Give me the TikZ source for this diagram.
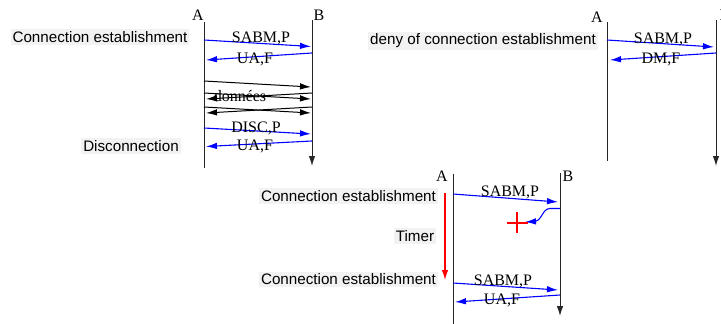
\documentclass[tikz,border=0pt]{standalone}
\usepackage{fontspec}
\setmainfont{Liberation Serif}
\setsansfont{Liberation Sans}
\usetikzlibrary{arrows.meta}
\begin{document}
\begin{tikzpicture}[x=1pt,y=-1pt,
  life/.style={line width=1pt, black!85},
  lifearr/.style={life, -{Latex[length=10pt,width=6.5pt]}},
  msg/.style={blue, line width=1.1pt, -{Latex[length=11pt,width=6.5pt]}},
  data/.style={black, line width=1pt, -{Latex[length=11pt,width=6.5pt]}},
  mlabel/.style={font=\fontsize{16}{16}\selectfont, inner sep=0pt},
  ent/.style={font=\fontsize{16}{16}\selectfont, inner sep=0pt},
  side/.style={font=\sffamily\fontsize{15.2}{16}\selectfont, fill=black!5, inner sep=2pt},
  timer/.style={red, line width=1.2pt, -{Latex[length=10pt,width=6.5pt]}},
  cross/.style={red, line width=2pt}
]
\useasboundingbox (0,0) rectangle (721,324);

% ---------- Diagram 1 ----------
\node[ent] (A1) at (198,15) {A};
\node[ent] (B1) at (319,15) {B};
\coordinate (A1t) at (204,22); \coordinate (A1b) at (204,168);
\coordinate (B1t) at (312,20); \coordinate (B1b) at (312,166);
\draw[life] (A1t) -- (A1b);
\draw[lifearr] (B1t) -- (B1b);

\coordinate (a11) at (204,40);  \coordinate (b11) at (311,46.5);
\coordinate (b12) at (312,53);  \coordinate (a12) at (206,60);
\coordinate (a13) at (204,81);  \coordinate (b13) at (311,87);
\coordinate (a14) at (204,93);  \coordinate (b14) at (311,99);
\coordinate (b15) at (312,93);  \coordinate (a15) at (206,99);
\coordinate (a16) at (204,107); \coordinate (b16) at (311,113);
\coordinate (b17) at (312,107); \coordinate (a17) at (206,113);
\coordinate (a18) at (204,128); \coordinate (b18) at (311,134);
\coordinate (b19) at (312,141); \coordinate (a19) at (206,146.5);

\draw[msg] (a11) -- (b11);
\draw[msg] (b12) -- (a12);
\draw[data] (a13) -- (b13);
\draw[data] (a14) -- (b14);
\draw[data] (b15) -- (a15);
\draw[data] (a16) -- (b16);
\draw[data] (b17) -- (a17);
\draw[msg] (a18) -- (b18);
\draw[msg] (b19) -- (a19);

\node[mlabel] (l11) at (261,38) {SABM,P};
\node[mlabel] (l12) at (255,59.5) {UA,F};
\node[mlabel] (l13) at (240,96) {données};
\node[mlabel] (l14) at (256,128) {DISC,P};
\node[mlabel] (l15) at (255,146.5) {UA,F};

\node[side] (s11) at (100,37) {Connection establishment};
\node[side] (s12) at (131,146) {Disconnection};

% ---------- Diagram 2 ----------
\node[ent] (A2) at (597,17) {A};
\node[ent] (B2) at (725,15) {B};
\coordinate (A2t) at (607,22); \coordinate (A2b) at (607,161);
\coordinate (B2t) at (716,20); \coordinate (B2b) at (716,166);
\draw[life] (A2t) -- (A2b);
\draw[lifearr] (B2t) -- (B2b);

\coordinate (a21) at (607,40); \coordinate (b21) at (714,47);
\coordinate (b22) at (716,53); \coordinate (a22) at (610,60);
\draw[msg] (a21) -- (b21);
\draw[msg] (b22) -- (a22);
\node[mlabel] (l21) at (663,39) {SABM,P};
\node[mlabel] (l22) at (661,59.5) {DM,F};

\node[side] (s21) at (483,41) {deny of connection establishment};

% ---------- Diagram 3 ----------
\node[ent] (A3) at (442,176) {A};
\node[ent] (B3) at (568,176) {B};
\coordinate (A3t) at (453,174); \coordinate (A3b) at (453,324);
\coordinate (B3t) at (560,173); \coordinate (B3b) at (560,316);
\draw[life] (A3t) -- (A3b);
\draw[lifearr] (B3t) -- (B3b);

\coordinate (a31) at (453,194); \coordinate (b31) at (558,202);
\coordinate (b32) at (560,208.5); \coordinate (a32) at (525,222);
\coordinate (a33) at (453,283); \coordinate (b33) at (558,290);
\coordinate (b34) at (560,295); \coordinate (a34) at (455,302);
\draw[msg] (a31) -- (b31);
\draw[msg] (b32) -- (550,208.5) to[out=180,in=0] (534,221.5) -- (a32);
\draw[msg] (a33) -- (b33);
\draw[msg] (b34) -- (a34);

\node[mlabel] (l31) at (510,192.5) {SABM,P};
\node[mlabel] (l32) at (503,281) {SABM,P};
\node[mlabel] (l33) at (502,300.5) {UA,F};

\coordinate (X) at (517,222.5);
\draw[cross] ([xshift=-10.5pt]X) -- ([xshift=10.5pt]X);
\draw[cross] ([yshift=-10.5pt]X) -- ([yshift=10.5pt]X);

\coordinate (T1) at (445,193); \coordinate (T2) at (445,280);
\draw[timer] (T1) -- (T2);

\node[side] (s31) at (348.5,196) {Connection establishment};
\node[side] (s32) at (415,236) {Timer};
\node[side] (s33) at (348.5,279.5) {Connection establishment};
\end{tikzpicture}
\end{document}
